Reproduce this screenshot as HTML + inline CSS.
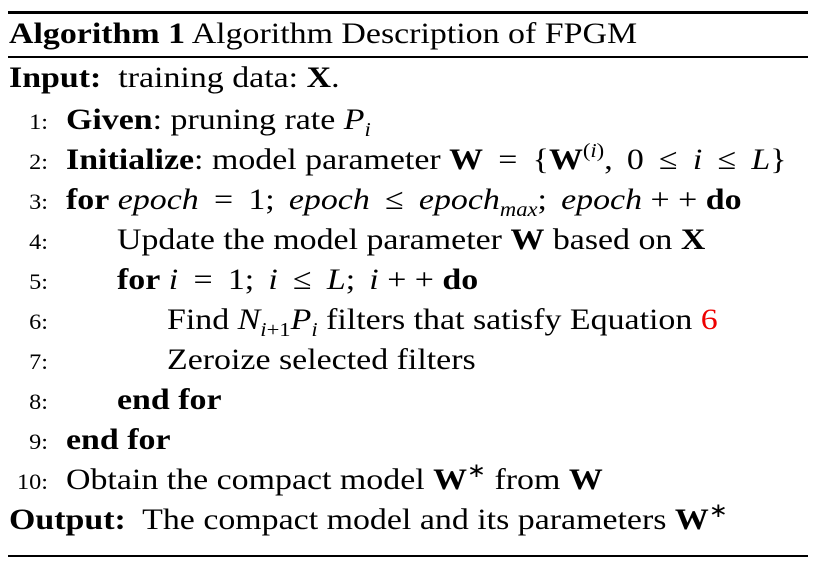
<!DOCTYPE html>
<html><head><meta charset="utf-8"><style>
html,body{margin:0;padding:0;background:#fff;width:826px;height:563px;overflow:hidden}
body{position:relative;font-family:"Liberation Serif",serif;font-size:30px;color:#000}
.l{position:absolute;line-height:0;white-space:nowrap;transform:scaleX(1.13);transform-origin:0 0}
.n{position:absolute;line-height:0;font-size:22px;text-align:right;width:48px;left:0;transform:scaleX(1.1);transform-origin:100% 0}
.r{position:absolute;left:8px;width:800px;background:#000}
i{font-style:italic}
.sb{font-size:20px;position:relative;top:7px}
.sp{font-size:20px;position:relative;top:-12px}
.m{margin:0 6px}
.s{margin-right:5px}
</style></head><body>
<div class="r" style="top:11px;height:3px"></div>
<div class="r" style="top:56px;height:2px"></div>
<div class="r" style="top:555px;height:2px"></div>

<div class="l" style="left:9px;top:34px"><b>Algorithm 1</b> Algorithm Description of FPGM</div>
<div class="l" style="left:9px;top:78px"><b>Input:</b>&nbsp; training data: <b>X</b>.</div>

<div class="n" style="top:122px">1:</div>
<div class="l" style="left:66px;top:120px"><b>Given</b>: pruning rate <i>P<span class="sb">i</span></i></div>
<div class="n" style="top:162px">2:</div>
<div class="l" style="left:66px;top:160px"><b>Initialize</b>: model parameter <b>W</b> <span class="m">=</span> {<b>W</b><span class="sp">(<i>i</i>)</span>,<span class="s"></span> 0 <span class="m">≤</span> <i>i</i> <span class="m">≤</span> <i>L</i>}</div>
<div class="n" style="top:202px">3:</div>
<div class="l" style="left:66px;top:200px"><b>for</b> <i>epoch</i> <span class="m">=</span> 1;<span class="s"></span> <i>epoch</i> <span class="m">≤</span> <i>epoch<span class="sb">max</span></i>;<span class="s"></span> <i>epoch</i> + + <b>do</b></div>
<div class="n" style="top:242px">4:</div>
<div class="l" style="left:117px;top:240px">Update the model parameter <b>W</b> based on <b>X</b></div>
<div class="n" style="top:282px">5:</div>
<div class="l" style="left:117px;top:280px"><b>for</b> <i>i</i> <span class="m">=</span> 1;<span class="s"></span> <i>i</i> <span class="m">≤</span> <i>L</i>;<span class="s"></span> <i>i</i> + + <b>do</b></div>
<div class="n" style="top:322px">6:</div>
<div class="l" style="left:167px;top:320px">Find <i>N</i><span class="sb"><i>i</i>+1</span><i>P<span class="sb">i</span></i> filters that satisfy Equation <span style="color:#e00">6</span></div>
<div class="n" style="top:362px">7:</div>
<div class="l" style="left:167px;top:360px">Zeroize selected filters</div>
<div class="n" style="top:402px">8:</div>
<div class="l" style="left:117px;top:400px"><b>end for</b></div>
<div class="n" style="top:442px">9:</div>
<div class="l" style="left:66px;top:440px"><b>end for</b></div>
<div class="n" style="top:482px">10:</div>
<div class="l" style="left:66px;top:480px">Obtain the compact model <b>W</b><span class="sp">∗</span> from <b>W</b></div>
<div class="l" style="left:9px;top:520px"><b>Output:</b>&nbsp; The compact model and its parameters <b>W</b><span class="sp">∗</span></div>
</body></html>
